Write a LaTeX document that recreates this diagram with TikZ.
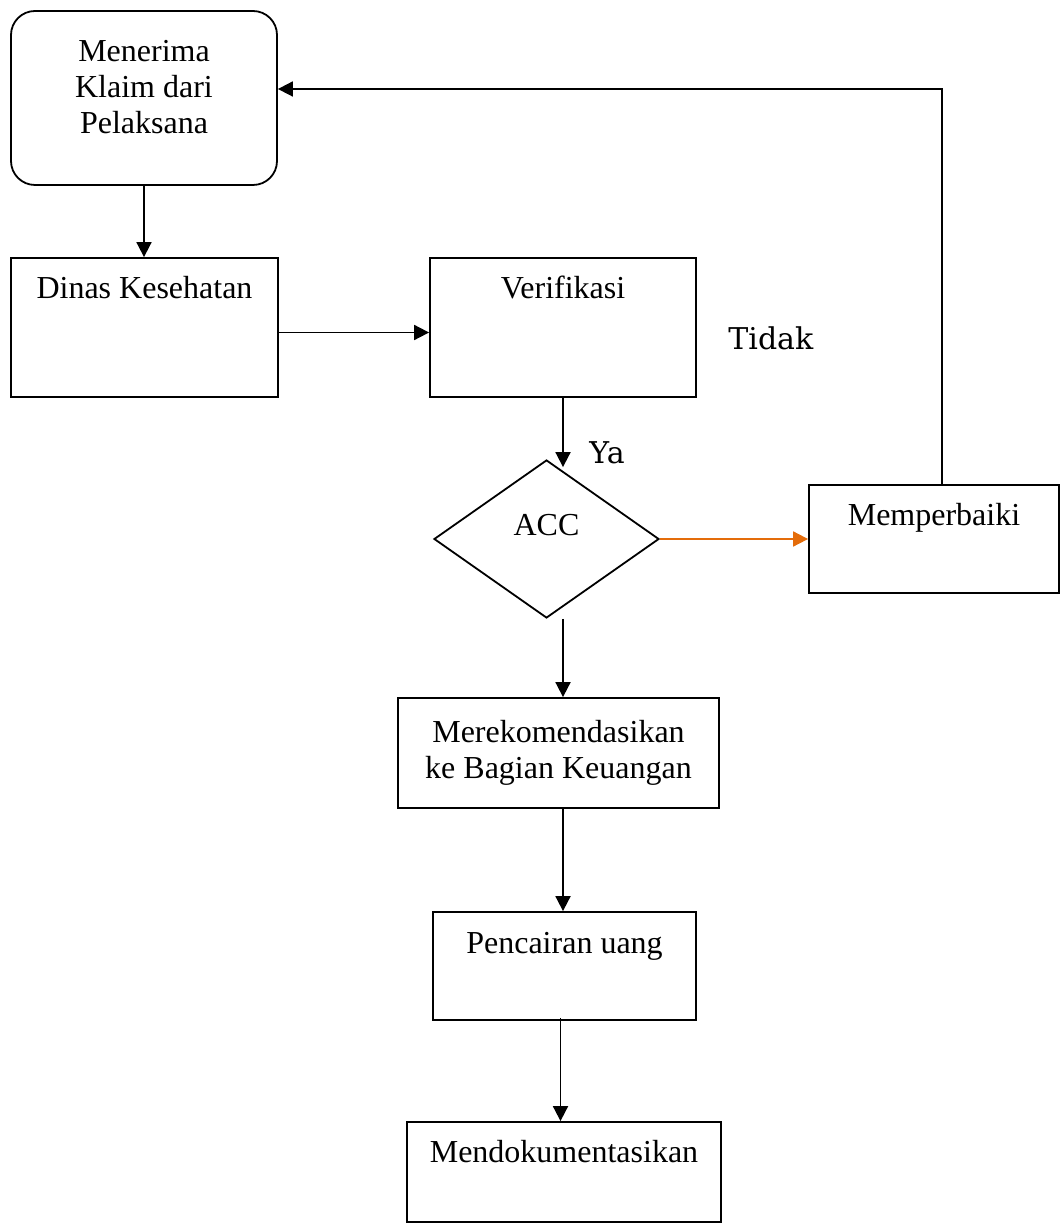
\documentclass[tikz,border=0pt]{standalone}
\usepackage{fontspec}
\setmainfont{Liberation Serif}
\newfontfamily\answerfont{DejaVu Serif}
\usetikzlibrary{shapes.geometric, arrows.meta, calc}
\definecolor{arrowOrange}{RGB}{228,108,10}
\tikzstyle{normalBox} = [shape=rectangle, draw=black, text=black, line width=0.9pt,
	align=center, fill=white, inner sep=0pt, font=\fontsize{16}{18}\selectfont]
\tikzstyle{topBox} = [normalBox, anchor=base]
\tikzstyle{roundBox} = [normalBox, rounded corners=12pt]
\tikzstyle{decisionBox} = [shape=diamond, draw=black, line width=0.9pt, inner sep=0pt,
	font=\fontsize{16}{18}\selectfont, minimum width=112.5pt, minimum height=79pt]
\tikzstyle{normalArrow} = [line width=0.9pt, -{Triangle[length=7.5pt,width=7.5pt]}, draw=black]
\tikzstyle{orangeArrow} = [normalArrow, draw=arrowOrange]
\tikzstyle{answerText} = [font=\answerfont\fontsize{15}{18}\selectfont,
	anchor=base west, inner sep=0pt]

\begin{document}
\begin{tikzpicture}[x=0.5pt, y=-0.5pt]
  \useasboundingbox (0,0) rectangle (1060,1224);
  \node (TERIMA) [roundBox, minimum width=133pt, text height=61.5pt, text depth=25.5pt] at (144,98) {Menerima\\Klaim dari\\Pelaksana};
  \node (DINAS) [topBox, minimum width=133.5pt, text height=20.5pt, text depth=49pt] at (144.5,299) {Dinas Kesehatan};
  \node (VERIF) [topBox, minimum width=133pt, text height=20.5pt, text depth=49pt] at (563,299) {Verifikasi};
  \node (ACC) [decisionBox, text height=11pt, text depth=15pt] at (546.5,539) {ACC};
  \node (PERBAIKI) [topBox, minimum width=125pt, text height=20pt, text depth=34pt] at (934,525) {Memperbaiki};
  \node (REKOM) [normalBox, minimum width=160.5pt, minimum height=55pt] at (558.5,753) {Merekomendasikan\\ke Bagian Keuangan};
  \node (CAIR) [topBox, minimum width=131.5pt, text height=20.5pt, text depth=33.5pt] at (564.5,953) {Pencairan uang};
  \node (DOK) [topBox, minimum width=157pt, text height=20pt, text depth=30pt] at (564,1162) {Mendokumentasikan};
  \node (YA) [answerText] at (589,463) {Ya};
  \node (TIDAK) [answerText] at (728,350) {Tidak};

  \draw [normalArrow] (TERIMA.south) -- (TERIMA.south |- DINAS.north);
  \draw [normalArrow] ([yshift=-2.5pt]DINAS.east) -- ([yshift=-2.5pt]VERIF.west);
  \draw [normalArrow] (VERIF.south) -- (VERIF.south |- {$(ACC.north)!0.1!(ACC.east)$});
  \draw [orangeArrow] (ACC.east) -- (ACC.east -| PERBAIKI.west);
  \draw [normalArrow] ([xshift=4pt]PERBAIKI.north) |- ([yshift=4.5pt]TERIMA.east);
  \draw [normalArrow] (ACC.south -| VERIF.south) -- (VERIF.south |- REKOM.north);
  \draw [normalArrow] (REKOM.south -| VERIF.south) -- (VERIF.south |- CAIR.north);
  \draw [normalArrow] ([xshift=-2pt,yshift=1.5pt]CAIR.south) -- ([xshift=-2pt]CAIR.south |- DOK.north);


\end{tikzpicture}
\end{document}
